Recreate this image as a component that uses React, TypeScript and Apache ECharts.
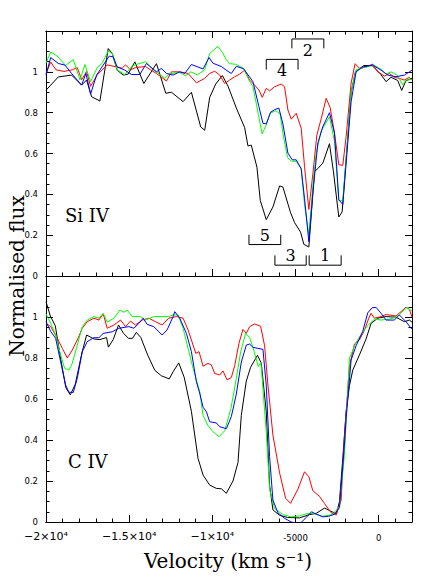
import React, { useEffect, useRef } from 'react';
import * as echarts from 'echarts';

// ---------- data ----------
const xTickValues = [-20000, -15000, -10000, -5000, 0];
const xTickLabels = ['−2×10⁴', '−1.5×10⁴', '−1×10⁴', '-5000', '0'];
const yTickLabels = ['0', '0.2', '0.4', '0.6', '0.8', '1', ''];

const siBlack: [number, number][] = [[-20000,0.91],[-19260,0.975],[-18460,0.984],[-17860,0.935],[-17560,0.96],[-17260,0.878],[-16760,0.857],[-16260,1.114],[-16020,1.09],[-15720,1.008],[-15360,0.984],[-15060,0.989],[-14660,1.049],[-14120,0.943],[-13360,1.04],[-12800,0.895],[-12460,0.90],[-11760,0.854],[-11260,0.90],[-10700,0.73],[-10460,0.714],[-10160,0.875],[-9800,0.94],[-9400,0.982],[-9060,0.93],[-8560,0.823],[-8060,0.727],[-7860,0.637],[-7660,0.641],[-7320,0.533],[-7120,0.37],[-6760,0.276],[-6360,0.338],[-5960,0.441],[-5760,0.436],[-5300,0.31],[-5060,0.262],[-4700,0.215],[-4500,0.155],[-4200,0.142],[-3860,0.512],[-3660,0.526],[-3360,0.553],[-2960,0.648],[-2720,0.51],[-2400,0.289],[-2200,0.314],[-1960,0.574],[-1660,0.9],[-1400,1.0],[-900,1.031],[-400,1.031],[100,0.99],[440,0.952],[740,0.973],[1140,0.958],[1380,0.909],[1640,0.957],[2000,0.968]];
const siRed: [number, number][] = [[-20000,0.99],[-19720,1.048],[-19400,1.01],[-18920,1.002],[-18420,1.01],[-18120,1.021],[-17860,0.961],[-17560,1.002],[-17320,0.929],[-16920,0.985],[-16320,1.034],[-15420,1.018],[-15220,1.034],[-14920,1.01],[-14620,1.021],[-14020,1.026],[-13720,1.01],[-13360,0.992],[-12760,0.955],[-12460,1.0],[-11960,1.0],[-11460,0.992],[-10960,0.946],[-10460,0.968],[-10160,0.992],[-9860,1.003],[-9560,0.984],[-9260,0.943],[-8960,0.96],[-8660,0.976],[-8360,0.989],[-8060,1.008],[-7760,0.96],[-7460,0.935],[-7200,0.911],[-7000,0.875],[-6760,0.919],[-6560,0.907],[-6260,0.927],[-5860,0.94],[-5660,0.927],[-5460,0.813],[-5260,0.768],[-4960,0.797],[-4660,0.724],[-4460,0.537],[-4200,0.326],[-3960,0.5],[-3720,0.69],[-3460,0.77],[-3160,0.87],[-2920,0.825],[-2660,0.7],[-2400,0.545],[-2160,0.542],[-1960,0.683],[-1660,0.945],[-1420,1.04],[-1160,1.017],[-760,1.024],[-360,1.038],[-60,1.0],[340,0.979],[640,0.992],[940,0.973],[1240,0.968],[1540,0.96],[1840,0.973],[2000,0.96]];
const siGreen: [number, number][] = [[-20000,1.042],[-19720,1.097],[-19340,1.078],[-18820,1.031],[-18360,1.06],[-17960,0.961],[-17660,1.036],[-17320,0.952],[-16920,1.021],[-16620,1.042],[-16260,1.103],[-16020,1.09],[-15720,1.01],[-15260,0.986],[-14800,1.03],[-14020,1.05],[-13560,1.01],[-13360,1.0],[-12860,0.968],[-12580,0.99],[-12000,0.998],[-11600,0.98],[-11300,1.0],[-10900,0.985],[-10460,1.01],[-10160,1.09],[-9670,1.125],[-9360,1.09],[-9160,1.059],[-8960,1.04],[-8600,1.037],[-8120,1.017],[-7760,0.953],[-7560,0.927],[-7230,0.79],[-7010,0.696],[-6760,0.74],[-6530,0.797],[-6200,0.81],[-5930,0.795],[-5720,0.68],[-5480,0.58],[-5240,0.562],[-4960,0.562],[-4660,0.525],[-4460,0.351],[-4200,0.2],[-3960,0.44],[-3760,0.6],[-3460,0.71],[-2960,0.78],[-2660,0.66],[-2400,0.37],[-2160,0.368],[-1860,0.677],[-1660,0.9],[-1360,1.01],[-860,1.022],[-260,1.032],[140,1.012],[440,0.99],[740,1.0],[1140,0.982],[1440,0.935],[1640,0.96],[2000,0.962]];
const siBlue: [number, number][] = [[-20000,0.984],[-19720,1.07],[-19260,1.041],[-18860,1.033],[-18460,0.992],[-17860,0.935],[-17600,0.992],[-17320,0.891],[-16960,0.984],[-16560,1.033],[-16200,1.077],[-15960,1.073],[-15720,1.024],[-15260,1.008],[-14860,0.987],[-14360,0.987],[-13960,1.041],[-13360,1.0],[-13060,1.017],[-12760,0.992],[-12360,0.984],[-11960,1.0],[-11660,0.992],[-11260,1.036],[-10560,1.014],[-10200,1.07],[-9960,1.042],[-9460,1.026],[-9060,1.002],[-8860,0.992],[-8560,1.027],[-8120,1.015],[-7560,0.952],[-7200,0.829],[-6960,0.748],[-6760,0.745],[-6500,0.802],[-6260,0.815],[-6000,0.822],[-5760,0.745],[-5460,0.602],[-5200,0.569],[-4960,0.569],[-4660,0.525],[-4460,0.38],[-4200,0.168],[-3960,0.407],[-3660,0.651],[-3360,0.732],[-2960,0.8],[-2660,0.7],[-2400,0.374],[-2160,0.35],[-1660,0.854],[-1360,1.0],[-960,1.024],[-360,1.033],[140,1.008],[540,0.984],[1040,0.976],[1540,0.984],[2000,1.008]];

const cBlack: [number, number][] = [[-20000,1.075],[-19740,1.005],[-19440,0.957],[-19140,0.806],[-18810,0.656],[-18540,0.62],[-18240,0.672],[-17840,0.825],[-17560,0.912],[-17090,0.892],[-16760,0.89],[-16360,0.9],[-16250,0.853],[-15960,0.89],[-15640,0.961],[-15340,0.92],[-15040,0.896],[-14800,0.896],[-14570,0.925],[-14300,0.9],[-13890,0.815],[-13460,0.74],[-13060,0.713],[-12590,0.698],[-12360,0.733],[-12020,0.776],[-11690,0.705],[-11260,0.54],[-10860,0.31],[-10560,0.229],[-10160,0.18],[-9760,0.164],[-9460,0.162],[-9160,0.14],[-8760,0.2],[-8460,0.29],[-8260,0.52],[-7960,0.688],[-7700,0.755],[-7290,0.813],[-7060,0.775],[-6760,0.538],[-6560,0.18],[-6360,0.059],[-5960,0.033],[-5480,0.022],[-4760,0.02],[-4160,0.036],[-3760,0.042],[-3260,0.068],[-2860,0.052],[-2540,0.04],[-2360,0.1],[-2160,0.311],[-1960,0.538],[-1760,0.665],[-1560,0.741],[-1160,0.815],[-760,0.893],[-460,0.969],[-60,0.994],[440,1.002],[1040,0.999],[1540,0.977],[1840,0.985],[2000,0.975]];
const cRed: [number, number][] = [[-20000,0.97],[-19720,0.953],[-19320,0.896],[-19020,0.847],[-18720,0.8],[-18420,0.839],[-18120,0.888],[-17820,0.945],[-17520,0.977],[-17120,0.994],[-16820,0.985],[-16560,1.015],[-16320,0.945],[-15920,0.961],[-15520,0.985],[-15220,0.953],[-14920,0.98],[-14620,0.961],[-14220,0.985],[-13820,0.994],[-13420,0.977],[-13020,0.961],[-12620,0.994],[-12160,1.002],[-11760,0.994],[-11460,0.937],[-11160,0.863],[-11000,0.823],[-10800,0.831],[-10560,0.76],[-10260,0.774],[-10060,0.766],[-9860,0.725],[-9560,0.717],[-9360,0.737],[-9120,0.693],[-8860,0.705],[-8660,0.762],[-8400,0.872],[-8160,0.94],[-7960,0.92],[-7760,0.953],[-7460,0.966],[-7100,0.955],[-6860,0.86],[-6660,0.668],[-6360,0.424],[-5960,0.24],[-5600,0.116],[-5300,0.091],[-4860,0.16],[-4460,0.245],[-4200,0.221],[-3960,0.152],[-3560,0.125],[-3260,0.09],[-2860,0.045],[-2560,0.034],[-2260,0.107],[-2060,0.42],[-1760,0.76],[-1460,0.868],[-1160,0.888],[-860,0.935],[-600,0.994],[-460,1.018],[-260,0.994],[140,1.002],[440,1.012],[1040,1.005],[1340,1.026],[1640,1.048],[1840,1.038],[2000,1.0]];
const cGreen: [number, number][] = [[-20000,1.015],[-19720,0.969],[-19420,0.912],[-19120,0.815],[-18880,0.75],[-18620,0.741],[-18420,0.774],[-18120,0.863],[-17820,0.953],[-17520,0.985],[-17120,1.002],[-16820,0.994],[-16560,1.018],[-16320,0.975],[-15920,0.994],[-15560,1.034],[-15320,1.023],[-15120,1.034],[-14820,1.002],[-14320,1.002],[-14020,0.985],[-13520,1.002],[-13020,1.002],[-12620,1.002],[-12360,1.01],[-12060,1.01],[-11760,0.945],[-11460,0.847],[-11160,0.75],[-10760,0.636],[-10560,0.52],[-10260,0.47],[-9960,0.44],[-9600,0.416],[-9260,0.445],[-8880,0.555],[-8560,0.7],[-8300,0.83],[-8000,0.921],[-7760,0.9],[-7500,0.835],[-7240,0.758],[-7080,0.778],[-6760,0.44],[-6560,0.16],[-6260,0.066],[-5760,0.036],[-5260,0.025],[-4760,0.03],[-4360,0.04],[-3960,0.042],[-3360,0.028],[-2800,0.036],[-2360,0.075],[-2060,0.33],[-1760,0.8],[-1360,0.875],[-1100,0.91],[-700,0.955],[-260,0.99],[140,0.985],[640,0.99],[1040,0.998],[1400,1.024],[1640,1.046],[2000,1.03]];
const cBlue: [number, number][] = [[-20000,0.977],[-19720,0.93],[-19420,0.896],[-19120,0.782],[-18820,0.668],[-18620,0.633],[-18360,0.632],[-18120,0.701],[-17820,0.831],[-17520,0.88],[-17120,0.899],[-16820,0.899],[-16560,0.92],[-16020,0.928],[-15620,0.945],[-15020,0.953],[-14720,0.945],[-14420,0.969],[-14160,0.994],[-13920,0.964],[-13520,0.953],[-13020,0.912],[-12720,0.937],[-12360,1.002],[-12260,1.026],[-11960,0.994],[-11560,0.92],[-11260,0.831],[-10960,0.684],[-10760,0.628],[-10560,0.56],[-10360,0.538],[-10160,0.489],[-9760,0.483],[-9560,0.465],[-9160,0.455],[-8860,0.514],[-8560,0.624],[-8260,0.78],[-7960,0.863],[-7760,0.868],[-7560,0.852],[-7260,0.847],[-6960,0.842],[-6760,0.668],[-6560,0.32],[-6360,0.107],[-6060,0.045],[-5660,0.018],[-5260,0.0],[-4760,-0.01],[-4360,0.022],[-4040,0.05],[-3800,0.04],[-3360,0.025],[-3000,0.028],[-2660,0.038],[-2360,0.07],[-2060,0.38],[-1960,0.506],[-1660,0.79],[-1360,0.86],[-960,0.93],[-660,1.02],[-400,1.045],[-160,1.047],[140,1.018],[440,0.985],[940,0.985],[1240,1.01],[1640,0.977],[2000,0.94]];

// bracket annotations: [vStart, vEnd, yLine, yTip]
const bracketSpans: [number, number, number, number][] = [
  [-5220, -3300, 1.161, 1.115],
  [-6760, -4850, 1.061, 1.011],
  [-7800, -5890, 0.154, 0.202],
  [-6240, -4360, 0.053, 0.101],
  [-4180, -2260, 0.053, 0.101],
];
const bracketLabels = ['2', '4', '5', '3', '1'];

const seriesColors = ['#000000', '#ff0000', '#00ff00', '#0000ff'];

export default function App() {
  const ref = useRef<HTMLDivElement>(null);
  useEffect(() => {
    if (!ref.current) return;
    const chart = echarts.init(ref.current, undefined, { renderer: 'svg' });
    const black = '#000';
    const lbl = 'DejaVu Sans';
    const serif = '"DejaVu Serif", serif';

    const xAx = (gridIndex: number, position: string, interval: number, len: number, labels: boolean) => ({
      type: 'value', gridIndex, position, min: -20000, max: 2000, interval,
      axisLine: { show: true, onZero: false, lineStyle: { color: black, width: 1 } },
      axisTick: { show: true, inside: true, length: len, lineStyle: { color: black, width: 1 } },
      minorTick: { show: false },
      splitLine: { show: false },
      axisLabel: labels ? {
        show: true, margin: 7,
        formatter: (v: number) => {
          const i = xTickValues.indexOf(v);
          if (i < 0) return '';
          return v < -5000 ? `{b|${xTickLabels[i]}}` : `{s|${xTickLabels[i]}}`;
        },
        rich: {
          b: { fontSize: 11, fontFamily: lbl, color: black, lineHeight: 14 },
          s: { fontSize: 8.5, fontFamily: lbl, color: black, lineHeight: 10, padding: [7, 0, 0, 0] },
        },
      } : { show: false },
    });
    const yAx = (gridIndex: number, position: string, labels: boolean) => ({
      type: 'value', gridIndex, position, min: 0, max: 1.2, interval: 0.2,
      axisLine: { show: true, onZero: false, lineStyle: { color: black, width: 1 } },
      axisTick: { show: true, inside: true, length: 7, lineStyle: { color: black, width: 1 } },
      minorTick: { show: true, splitNumber: 4, length: 3.5, lineStyle: { color: black, width: 1 } },
      splitLine: { show: false },
      axisLabel: labels ? {
        show: true, margin: 8, fontSize: 8.5, fontFamily: lbl, color: black,
        formatter: (v: number) => yTickLabels[Math.round(v / 0.2)] ?? '',
      } : { show: false },
    });

    const lineSeries = (data: [number, number][], color: string, xi: number, yi: number) => ({
      type: 'line', data, xAxisIndex: xi, yAxisIndex: yi, showSymbol: false, symbol: 'none',
      lineStyle: { color, width: 1 }, itemStyle: { color }, clip: true, silent: true,
    });

    const option: any = {
      animation: false,
      backgroundColor: '#fff',
      grid: [
        { left: 46, right: 24, top: 31, height: 245 },
        { left: 46, right: 24, top: 276, height: 246 },
      ],
      xAxis: [
        xAx(0, 'bottom', 5000, 7, false),
        xAx(0, 'bottom', 1000, 3.5, false),
        xAx(0, 'top', 5000, 7, false),
        xAx(0, 'top', 1000, 3.5, false),
        xAx(1, 'bottom', 5000, 7, true),
        xAx(1, 'bottom', 1000, 3.5, false),
      ],
      yAxis: [
        yAx(0, 'left', true),
        yAx(0, 'right', false),
        yAx(1, 'left', true),
        yAx(1, 'right', false),
      ],
      series: [
        lineSeries(siBlack, seriesColors[0], 0, 0),
        lineSeries(siRed, seriesColors[1], 0, 0),
        lineSeries(siGreen, seriesColors[2], 0, 0),
        lineSeries(siBlue, seriesColors[3], 0, 0),
        lineSeries(cBlack, seriesColors[0], 4, 2),
        lineSeries(cRed, seriesColors[1], 4, 2),
        lineSeries(cGreen, seriesColors[2], 4, 2),
        lineSeries(cBlue, seriesColors[3], 4, 2),
        {
          type: 'custom', xAxisIndex: 0, yAxisIndex: 0, data: bracketSpans, silent: true,
          encode: { x: [0, 1], y: [2, 3] },
          renderItem: (params: any, api: any) => {
            const i = params.dataIndex;
            const yl = api.value(2), yt = api.value(3);
            const a = api.coord([api.value(0), yl]);
            const b = api.coord([api.value(1), yl]);
            const ta = api.coord([api.value(0), yt]);
            const tb = api.coord([api.value(1), yt]);
            const down = yt < yl;
            return {
              type: 'group',
              children: [
                { type: 'polyline', shape: { points: [ta, a, b, tb] }, style: { stroke: black, fill: 'none', lineWidth: 1 } },
                { type: 'text', style: { text: bracketLabels[i], x: (a[0] + b[0]) / 2, y: a[1] + (down ? 11.5 : -9.5), align: 'center', verticalAlign: 'middle', fontSize: 16, fontFamily: serif, fill: black } },
              ],
            };
          },
        },
      ],
      graphic: [
        { type: 'text', x: 17, y: 276, rotation: Math.PI / 2, style: { text: 'Normalised flux', fontSize: 20, fontFamily: serif, fill: black, align: 'center', verticalAlign: 'middle' } },
        { type: 'text', x: 228, y: 561, style: { text: 'Velocity (km s⁻¹)', fontSize: 20, fontFamily: serif, fill: black, align: 'center', verticalAlign: 'middle' } },
        { type: 'text', x: 65, y: 215, style: { text: 'Si IV', fontSize: 18, fontFamily: serif, fill: black, align: 'left', verticalAlign: 'middle' } },
        { type: 'text', x: 68, y: 461.5, style: { text: 'C IV', fontSize: 18, fontFamily: serif, fill: black, align: 'left', verticalAlign: 'middle' } },
      ],
    };
    chart.setOption(option);
    return () => chart.dispose();
  }, []);
  return <div ref={ref} style={{ position: 'fixed', left: 0, top: 0, width: 436, height: 581, background: '#fff' }} />;
}
